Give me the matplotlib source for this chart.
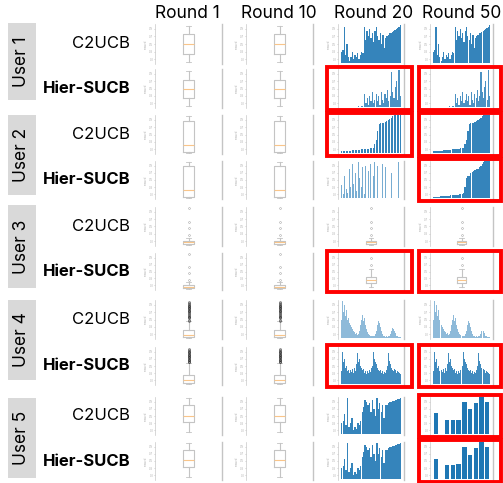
import matplotlib.pyplot as plt
from matplotlib.patches import Rectangle

plt.rcParams['font.family'] = ['Inter', 'DejaVu Sans']

# ---- data (normalised 0..1) ----
rounds = ['Round 1', 'Round 10', 'Round 20', 'Round 50']
users = ['User 1', 'User 2', 'User 3', 'User 4', 'User 5']
methods = ['C2UCB', 'Hier-SUCB']

u1_c2ucb_bars = [0.3, 0.35, 0.95, 0.2, 0.5, 0.15, 0.05, 0.15, 0.3, 0.1, 0.2, 0.15, 0.25, 0.1, 0.2, 0.3,
                 0.25, 0.95, 0.6, 0.85, 0.7, 0.9, 0.65, 0.8, 0.55, 0.85, 0.95, 0.7, 0.6, 0.8, 0.5, 0.75,
                 0.4, 0.65, 0.7, 0.75, 0.78, 0.8, 0.83, 0.85, 0.88, 0.9, 0.93, 0.96, 1.0]
u1_hier_bars = [0, 0, 0, 0, 0, 0, 0, 0, 0, 0, 0, 0, 0, 0.02, 0, 0, 0.03, 0, 0.35, 0.1, 0.25, 0.05, 0.3,
                0.15, 0.4, 0.1, 0.2, 0.35, 0.15, 0.3, 0.05, 0.4, 0.2, 0.1, 0.35, 0.25, 0.45, 0.15, 0.3,
                0.95, 0.4, 0.25, 0.55, 0.7, 0.2, 1.0, 0.3]
u2_c2ucb_bars = [0.04, 0.04, 0.04, 0.05, 0.05, 0.05, 0.05, 0.07, 0.07, 0.07, 0.07, 0.08, 0.08, 0.1,
                 0.1, 0.1, 0.1, 0.1, 0.1, 0.12, 0.12, 0.12, 0.25, 0.35, 0.6, 0.78, 0.8, 0.8, 0.82,
                 0.85, 0.87, 0.9, 0.92, 0.95, 1.0, 1.05, 1.1, 1.1, 1.1, 1.1]
u2_hier_r20_bars = [0.35, 0.1, 0.6, 0.25, 0.15, 0.8, 0.3, 0.95, 0.4, 0.7, 0.2, 1.0, 0.55, 0.3, 0.85,
                    0.1, 0.9, 0.0, 0.75, 0.95, 0.0, 0.6, 1.0, 0.0, 0.9, 0.0, 0.0, 0.95, 0.0, 0.85,
                    0.0, 0.0, 0.0, 0.7, 0.0, 0.0, 0.0, 0.0, 1.0, 0.0]
u2_hier_r50_bars = [0.02, 0.02, 0.03, 0.03, 0.03, 0.04, 0.04, 0.05, 0.05, 0.05, 0.06, 0.06, 0.07,
                    0.07, 0.08, 0.08, 0.09, 0.09, 0.1, 0.1, 0.12, 0.15, 0.3, 0.55, 0.6, 0.62, 0.7,
                    0.72, 0.75, 0.78, 0.8, 0.82, 0.85, 0.9, 0.95, 1.0, 1.05, 1.05, 1.05, 1.05]
u4_c2ucb_bars = [0.5, 1.0, 0.7, 0.9, 0.6, 0.75, 0.5, 0.55, 0.4, 0.35, 0.3, 0.25, 0.2, 0.15, 0.1,
                 0.12, 0.08, 0.1, 0.2, 0.35, 0.5, 0.63, 0.45, 0.55, 0.35, 0.25, 0.15, 0.1, 0.08,
                 0.05, 0.06, 0.05, 0.04, 0.05, 0.1, 0.2, 0.35, 0.47, 0.4, 0.3, 0.2, 0.1, 0.06, 0.04,
                 0.03, 0.05, 0.03, 0.04, 0.06, 0.1, 0.2, 0.27, 0.25, 0.18, 0.12, 0.06, 0.04, 0.03,
                 0.02, 0.03]
u4_hier_bars = [0.35, 0.88, 0.6, 0.7, 0.45, 0.5, 0.35, 0.4, 0.3, 0.38, 0.33, 0.42, 0.3, 0.45, 0.35,
                0.55, 0.85, 0.6, 0.7, 0.5, 0.45, 0.38, 0.42, 0.3, 0.36, 0.28, 0.35, 0.3, 0.4, 0.32,
                0.45, 0.5, 0.9, 0.7, 0.6, 0.55, 0.45, 0.4, 0.35, 0.38, 0.3, 0.35, 0.28, 0.33, 0.3,
                0.4, 0.5, 0.85, 0.65, 0.55, 0.45, 0.4, 0.35, 0.42, 0.38, 0.3, 0.35, 0.32, 0.3, 0.28]
u5_r20_bars = [0.3, 0.35, 0.55, 0.25, 1.0, 0.2, 0.3, 0.45, 0.1, 0.2, 0.15, 0.3, 0.25, 0.35, 0.6,
               0.75, 0.95, 0.9, 0.8, 0.85, 0.6, 0.95, 0.7, 0.5, 1.0, 0.7, 0.85, 0.6, 0.8, 0.45, 0.8,
               0.82, 0.85, 0.88, 0.9, 0.92, 0.93, 0.95, 0.97, 0.98, 1.0]
u5_r50_bars = [0.58, 0.0, 0.4, 0.39, 0.4, 0.9, 0.7, 0.87, 1.05, 0.9]
u5h_r50_bars = [0.55, 0.0, 0.4, 0.39, 0.41, 0.88, 0.68, 0.86, 1.05, 0.88]

# box stats: whislo, q1, med, q3, whishi
u1_box = [0.03, 0.24, 0.5, 0.76, 0.97]
u1h_box = [0.03, 0.23, 0.49, 0.74, 0.98]
u2_box = [0.0, 0.03, 0.22, 0.88, 1.0]
u3_box = [0.0, 0.03, 0.07, 0.11, 0.2]
u3_fliers = [0.27, 0.47, 0.63, 1.0]
u3h_box = [0.05, 0.17, 0.27, 0.35, 0.56]
u3h_fliers = [0.68, 0.9]
u4_box = [0.0, 0.02, 0.08, 0.22, 0.45]
u4_fliers = [0.47, 0.5, 0.53, 0.56, 0.58, 0.6, 0.62, 0.65, 0.67, 0.7, 0.72, 0.74, 0.76, 0.78, 0.8,
             0.82, 0.84, 0.86, 0.88, 0.9, 0.92, 0.94, 0.97]
u4h_box = [0.0, 0.02, 0.1, 0.25, 0.58]
u4h_fliers = [0.6, 0.62, 0.64, 0.66, 0.68, 0.7, 0.72, 0.74, 0.76, 0.78, 0.8, 0.82, 0.84, 0.86,
              0.88, 0.9, 0.92, 0.94, 0.97]
u5_box = [0.05, 0.33, 0.5, 0.8, 1.0]
u5h_box = [0.05, 0.33, 0.52, 0.81, 1.0]

W, H = 503, 483
fig = plt.figure(figsize=(W / 100, H / 100), dpi=100)


def axes_px(x0, y0, x1, y1):
    return fig.add_axes([x0 / W, 1 - y1 / H, (x1 - x0) / W, (y1 - y0) / H])


col_x = [(155, 222), (246, 313), (338, 404), (430, 493)]
red_x = [None, None, (327, 412), (419, 501)]
row_y = [(22, 66), (67, 110), (113, 156), (159, 201), (205, 248), (251, 292),
         (298, 341), (345, 387), (395, 437), (440, 482)]


def style(ax):
    ax.spines['top'].set_visible(False)
    ax.spines['bottom'].set_visible(False)
    ax.spines['left'].set_color('#c8c8c8')
    ax.spines['left'].set_linewidth(0.5)
    ax.spines['right'].set_color('#c4c4c4')
    ax.spines['right'].set_linewidth(1.0)
    ax.set_xticks([])
    ax.set_ylim(-0.03, 1.03)
    ax.set_yticks([0.1, 0.3, 0.5, 0.7, 0.9])
    ax.set_yticklabels(['0.1', '0.3', '0.5', '0.7', '0.9'])
    ax.tick_params(axis='y', labelsize=2, colors='#aaaaaa', length=1, width=0.4, pad=0.5)
    ax.set_ylabel('reward', fontsize=2, color='#aaaaaa', labelpad=0.5)


def box(ax, st, fliers=(), dark=False):
    stats = [dict(whislo=st[0], q1=st[1], med=st[2], q3=st[3], whishi=st[4], fliers=list(fliers))]
    ax.bxp(stats, positions=[1], widths=0.15, showfliers=True,
           boxprops=dict(color='#c4c4c4', linewidth=0.8),
           whiskerprops=dict(color='#c4c4c4', linewidth=0.8),
           capprops=dict(color='#c4c4c4', linewidth=0.6),
           medianprops=dict(color='#f9c58a', linewidth=0.8),
           flierprops=dict(marker='o', markersize=1.4 if dark else 1.3, markerfacecolor='none',
                           markeredgecolor='#222222' if dark else '#888888', markeredgewidth=0.3))
    ax.set_xlim(0.5, 1.5)


def bars(ax, vals, alpha=0.9, width=0.95):
    n = len(vals)
    ax.bar(range(n), vals, width=width, color='#1f77b4', alpha=alpha, linewidth=0)
    ax.set_xlim(-0.5 - 0.05 * n, n - 0.5 + 0.05 * n)


cells = {}
for c in range(4):
    cells[(0, c)] = ('box', u1_box, [])
    cells[(1, c)] = ('box', u1h_box, [])
    cells[(2, c)] = ('box', u2_box, [])
    cells[(3, c)] = ('box', u2_box, [])
    cells[(4, c)] = ('box', u3_box, u3_fliers)
    cells[(5, c)] = ('box', u3_box, u3_fliers)
    cells[(6, c)] = ('boxd', u4_box, u4_fliers)
    cells[(7, c)] = ('boxd', u4h_box, u4h_fliers)
    cells[(8, c)] = ('box', u5_box, [])
    cells[(9, c)] = ('box', u5h_box, [])
for c in (2, 3):
    cells[(0, c)] = ('bar', u1_c2ucb_bars, 0.9)
    cells[(1, c)] = ('bar', u1_hier_bars, 0.8)
    cells[(2, c)] = ('bar', u2_c2ucb_bars, 0.9)
    cells[(5, c)] = ('box', u3h_box, u3h_fliers)
    cells[(6, c)] = ('bar', u4_c2ucb_bars, 0.5)
    cells[(7, c)] = ('bar', u4_hier_bars, 0.85)
cells[(3, 2)] = ('bar', u2_hier_r20_bars, 0.6)
cells[(3, 3)] = ('bar', u2_hier_r50_bars, 0.9)
cells[(8, 2)] = ('bar', u5_r20_bars, 0.9)
cells[(9, 2)] = ('bar', u5_r20_bars, 0.9)
cells[(8, 3)] = ('bar5', u5_r50_bars, 1.0)
cells[(9, 3)] = ('bar5', u5h_r50_bars, 1.0)

for (r, c), cell in cells.items():
    x0, x1 = col_x[c]
    y0, y1 = row_y[r]
    ax = axes_px(x0, y0 + 2, x1, y1 - 2)
    kind = cell[0]
    if kind == 'box':
        box(ax, cell[1], cell[2])
    elif kind == 'boxd':
        box(ax, cell[1], cell[2], dark=True)
    elif kind == 'bar':
        bars(ax, cell[1], cell[2])
    else:
        bars(ax, cell[1], cell[2], width=0.75)
    style(ax)

red_cells = [(1, 2), (1, 3), (2, 2), (2, 3), (3, 3), (5, 2), (5, 3), (7, 2), (7, 3), (8, 3), (9, 3)]
for r, c in red_cells:
    x0, x1 = red_x[c]
    y0, y1 = row_y[r]
    fig.add_artist(Rectangle((x0 / W, 1 - y1 / H), (x1 - x0) / W, (y1 - y0) / H,
                             transform=fig.transFigure, fill=False, edgecolor='#ff0000',
                             linewidth=2.8))

# column headers
head_x = [187, 279, 374, 462]
for name, hx in zip(rounds, head_x):
    fig.text(hx / W, 1 - 14 / H, name, ha='center', va='center', fontsize=12.5)

# user boxes
user_y = [(23, 100), (115, 195), (205, 288), (300, 380), (398, 478)]
for name, (y0, y1) in zip(users, user_y):
    fig.add_artist(Rectangle((8 / W, 1 - y1 / H), 28 / W, (y1 - y0) / H,
                             transform=fig.transFigure, facecolor='#d9d9d9', edgecolor='none'))
    fig.text(22 / W, 1 - (y0 + y1) / 2 / H, name, rotation=90, ha='center', va='center',
             fontsize=12.5)

# method labels
for r in range(10):
    y0, y1 = row_y[r]
    m = methods[r % 2]
    fig.text(130 / W, 1 - (y0 + y1) / 2 / H, m, ha='right', va='center', fontsize=12,
             fontweight='bold' if m == 'Hier-SUCB' else 'normal')

fig.savefig('out.png', dpi=100)
